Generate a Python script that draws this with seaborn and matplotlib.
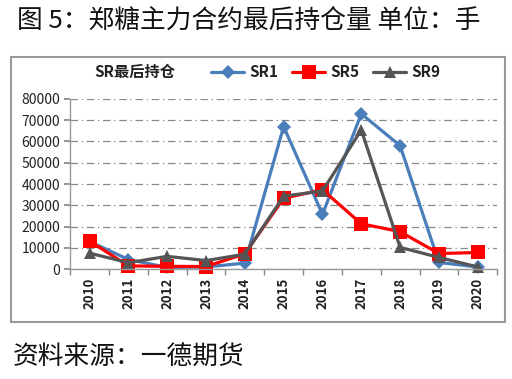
import matplotlib
matplotlib.use("Agg")
import matplotlib.pyplot as plt
import seaborn as sns
import pandas as pd
from matplotlib.patches import Rectangle
from matplotlib.lines import Line2D

years = ["2010", "2011", "2012", "2013", "2014", "2015", "2016", "2017", "2018", "2019", "2020"]
sr1 = [13000, 4500, 800, 1000, 2800, 67000, 25700, 73000, 58000, 3100, 1000]
sr5 = [13200, 1500, 1300, 1200, 7200, 33300, 37300, 21300, 17600, 7300, 7800]
sr9 = [7500, 3000, 6000, 4000, 7000, 34300, 36700, 65400, 10200, 5500, 1000]
series_names = ["SR1", "SR5", "SR9"]

sns.set_theme(style="white")
plt.rcParams["font.family"] = ["Noto Sans CJK SC", "DejaVu Sans"]

rows = []
for name, vals in zip(series_names, [sr1, sr5, sr9]):
    for i, (y, v) in enumerate(zip(years, vals)):
        rows.append({"idx": i, "year": y, "value": v, "series": name})
df = pd.DataFrame(rows)

colors = {"SR1": "#4a7ebb", "SR5": "#ff0000", "SR9": "#555555"}
markers = {"SR1": "D", "SR5": "s", "SR9": "^"}
msizes = {"SR1": 7, "SR5": 10, "SR9": 9}

fig = plt.figure(figsize=(5.12, 3.79), dpi=100)
ax = fig.add_axes([0.137, 0.290, 0.834, 0.449])

for name in series_names:
    sub = df[df["series"] == name]
    sns.lineplot(data=sub, x="idx", y="value", ax=ax, color=colors[name],
                 marker=markers[name], markersize=msizes[name], markeredgewidth=0,
                 linewidth=2.3, legend=False)

ax.set_xlim(-0.5, len(years) - 0.5)
ax.set_ylim(0, 80000)
ax.set_yticks(range(0, 80001, 10000))
ax.set_yticklabels([str(v) for v in range(0, 80001, 10000)], fontsize=10, color="#222222")
ax.set_xticks(range(len(years)))
ax.set_xticklabels(years, rotation=90, fontsize=9.5, fontweight="bold", color="#222222")
ax.set_xticks([i + 0.5 for i in range(-1, len(years))], minor=True)
ax.tick_params(axis="x", which="major", length=0, pad=6)
ax.tick_params(axis="x", which="minor", length=4, color="#888888", direction="out", bottom=True)
ax.tick_params(axis="y", length=4, color="#888888", direction="out", left=True, pad=3)
ax.set_xlabel("")
ax.set_ylabel("")
for s in ["top", "right"]:
    ax.spines[s].set_visible(False)
for s in ["left", "bottom"]:
    ax.spines[s].set_color("#999999")
    ax.spines[s].set_linewidth(1)
ax.yaxis.grid(True, linestyle=(0, (6, 3, 1, 3)), color="#888888", linewidth=0.9)
ax.set_axisbelow(True)
for line in ax.lines:
    line.set_clip_on(False)

# border box
fig.patches.append(Rectangle((0.0215, 0.150), 0.965, 0.699, transform=fig.transFigure,
                             fill=False, edgecolor="#999999", linewidth=1.5))

# title and source
fig.text(0.033, 0.945, "图 5：郑糖主力合约最后持仓量 单位：手", fontsize=18.5, color="#111111",
         ha="left", va="center")
fig.text(0.025, 0.058, "资料来源：一德期货", fontsize=18.5, color="#111111",
         ha="left", va="center")

# legend
fig.text(0.185, 0.81, "SR最后持仓", fontsize=11, fontweight="bold", color="#222222",
         ha="left", va="center")
handles = [Line2D([0], [0], color=colors[n], marker=markers[n], markersize=msizes[n],
                  markeredgewidth=0, linewidth=2.3) for n in series_names]
leg = fig.legend(handles, series_names, loc="center left", bbox_to_anchor=(0.385, 0.81),
                 ncol=3, frameon=False, handlelength=2.2, handletextpad=0.3,
                 columnspacing=0.9, prop={"size": 11, "weight": "bold"})
for t in leg.get_texts():
    t.set_color("#222222")

fig.savefig("out.png", dpi=100)
